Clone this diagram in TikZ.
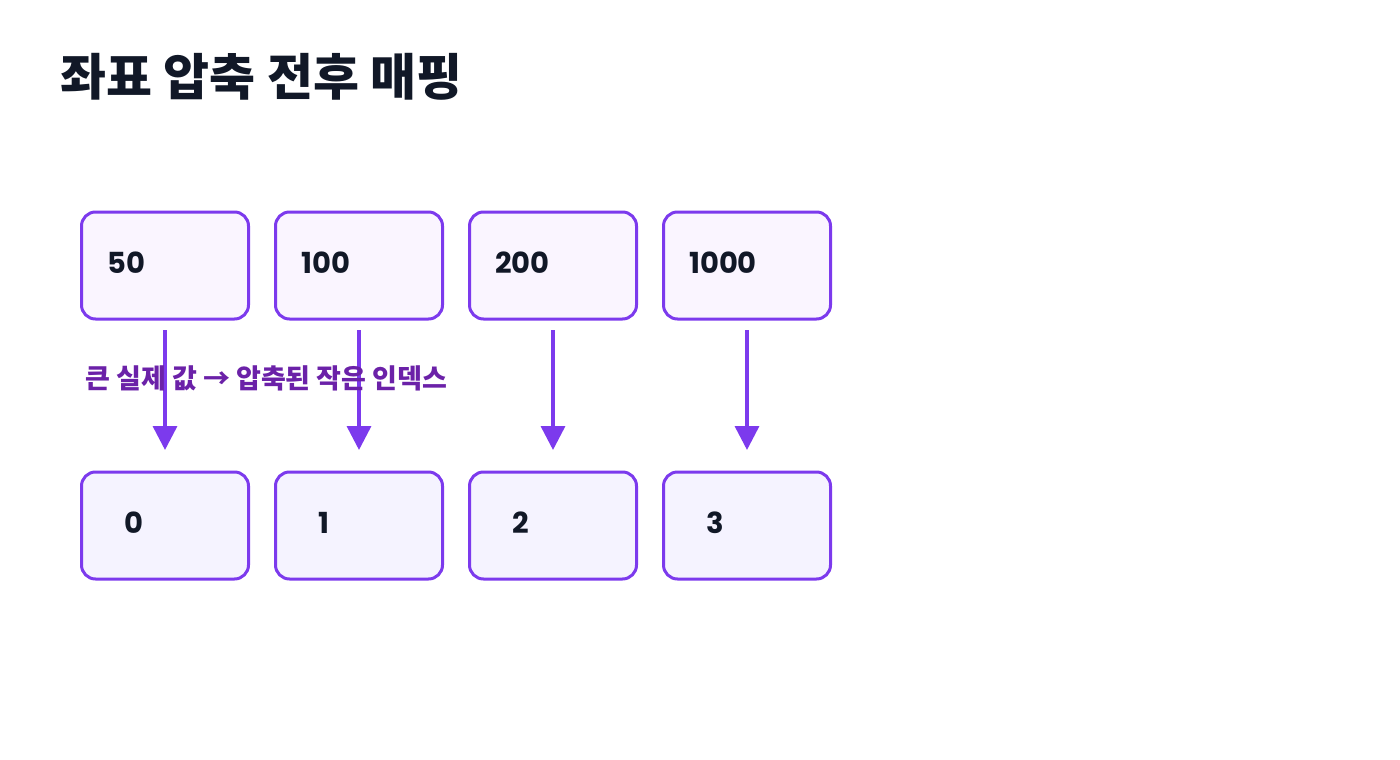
\documentclass[tikz,border=0pt]{standalone}
\usepackage{fontspec}
\setmainfont{Poppins}
\newfontfamily\kr{Noto Sans CJK KR}
\usetikzlibrary{arrows.meta}
\definecolor{pborder}{HTML}{7C3AED}
\definecolor{ptext}{HTML}{6B21A8}
\definecolor{dark}{HTML}{111827}
\definecolor{topfill}{HTML}{FAF5FF}
\definecolor{botfill}{HTML}{F5F3FF}
\tikzset{
 box/.style={draw=pborder,line width=3pt,rounded corners=14pt,minimum width=167pt,minimum height=107pt,inner sep=0pt},
 num/.style={font=\fontsize{29}{34}\selectfont\bfseries,text=dark,anchor=west,inner sep=0pt},
 arr/.style={draw=pborder,line width=3.5pt,-{Triangle[length=24pt,width=24pt]}}
}
\begin{document}
\begin{tikzpicture}[x=1pt,y=-1pt]
\useasboundingbox (0,0) rectangle (1400,760);
\node[anchor=west,inner sep=0pt,font=\kr\fontsize{50}{56}\selectfont\bfseries,text=dark] (title) at (60,77) {좌표 압축 전후 매핑};
\foreach \i/\xx/\tv/\bv in {1/165/50/0,2/359/100/1,3/553/200/2,4/747/1000/3}{
 \node[box,fill=topfill] (t\i) at (\xx,265.5) {};
 \node[num] (tl\i) at (\xx-58,263) {\tv};
 \node[box,fill=botfill] (b\i) at (\xx,525.5) {};
 \node[num] (bl\i) at (\xx-41,523) {\bv};
 \coordinate (s\i) at (\xx,330);
 \coordinate (e\i) at (\xx,450);
 \draw[arr] (s\i) -- (e\i);
}
\node[anchor=west,inner sep=0pt,font=\kr\fontsize{27}{30}\selectfont\bfseries,text=ptext] (lab) at (85,378) {큰 실제 값 → 압축된 작은 인덱스};
\end{tikzpicture}
\end{document}
